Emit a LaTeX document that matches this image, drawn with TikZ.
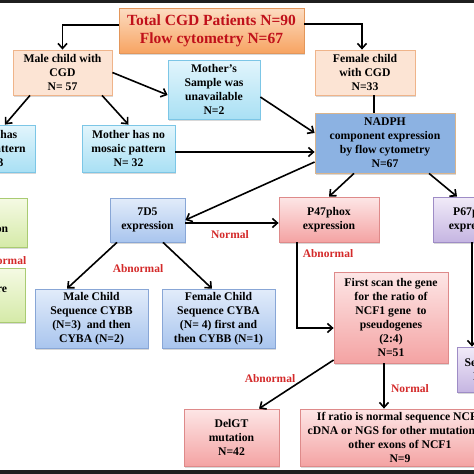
\documentclass[tikz,border=0pt]{standalone}
\usepackage{fontspec}
\setmainfont{Liberation Serif}
\usetikzlibrary{arrows.meta,shadows}
\definecolor{topT}{HTML}{FCDCC2}
\definecolor{topB}{HTML}{F7A462}
\definecolor{topD}{HTML}{E3965A}
\definecolor{topTxt}{HTML}{C0101A}
\definecolor{peachF}{HTML}{FCE4D4}
\definecolor{peachD}{HTML}{EFB48A}
\definecolor{cyT}{HTML}{E2F5FC}
\definecolor{cyB}{HTML}{A9E0F4}
\definecolor{cyD}{HTML}{7CC6E6}
\definecolor{nadF}{HTML}{8CB2E2}
\definecolor{nadD}{HTML}{D9B48C}
\definecolor{blT}{HTML}{E2ECFA}
\definecolor{blB}{HTML}{A9C5EE}
\definecolor{blD}{HTML}{88A6D6}
\definecolor{pkT}{HTML}{FDE6E6}
\definecolor{pkB}{HTML}{F4A3A3}
\definecolor{pkD}{HTML}{DE8A8A}
\definecolor{puT}{HTML}{F1EBF8}
\definecolor{puB}{HTML}{C5B5E2}
\definecolor{puD}{HTML}{9E8CC6}
\definecolor{grT}{HTML}{F5FAE4}
\definecolor{grB}{HTML}{D5EAA8}
\definecolor{grD}{HTML}{A9CB72}
\definecolor{labred}{HTML}{D42A2A}
\tikzset{
  bx/.style={draw, line width=0.8pt, align=center, inner sep=0pt,
    font=\fontsize{11.7}{14}\selectfont\bfseries,
    drop shadow={shadow xshift=1.2pt, shadow yshift=-1.5pt, opacity=0.3}},
  topbox/.style={bx, top color=topT, bottom color=topB, draw=topD, text=topTxt,
    font=\fontsize{15.5}{18}\selectfont\bfseries},
  peach/.style={bx, fill=peachF, draw=peachD},
  cyanbox/.style={bx, top color=cyT, bottom color=cyB, draw=cyD},
  nadbox/.style={bx, fill=nadF, draw=nadD},
  bluebox/.style={bx, top color=blT, bottom color=blB, draw=blD},
  pinkbox/.style={bx, top color=pkT, bottom color=pkB, draw=pkD},
  purpbox/.style={bx, top color=puT, bottom color=puB, draw=puD},
  greenbox/.style={bx, top color=grT, bottom color=grB, draw=grD},
  arr/.style={line width=1.6pt, -{Straight Barb[length=5pt,width=9pt,line width=1.6pt]}},
  ln/.style={line width=1.6pt},
  lab/.style={text=labred, font=\fontsize{11.5}{13}\selectfont\bfseries, inner sep=0pt},
}
\begin{document}
\begin{tikzpicture}[x=1pt,y=-1pt]
\useasboundingbox (0,0) rectangle (474,474);
\clip (0,0) rectangle (474,474);
\fill[white] (0,0) rectangle (474,474);

% boxes
\node[topbox, minimum width=185pt, minimum height=45pt] (top) at (211.5,30.5) {Total CGD Patients N=90\\Flow cytometry N=67};
\node[peach, minimum width=99pt, minimum height=45pt] (male) at (62.5,72.5) {Male child with\\CGD\\N= 57};
\node[peach, minimum width=100pt, minimum height=45pt] (female) at (365,72.5) {Female child\\with CGD\\N=33};
\node[cyanbox, minimum width=92pt, minimum height=59pt] (mothers) at (214,89.5) {Mother's\\Sample was\\unavailable\\N=2};
\node[nadbox, minimum width=140pt, minimum height=60pt] (nadph) at (385,143) {NADPH\\component expression\\by flow cytometry\\N=67};
\node[cyanbox, minimum width=93pt, minimum height=47pt] (mosaic) at (-11.5,148.5) {Mother has\\mosaic pattern\\N= 23};
\node[cyanbox, minimum width=93pt, minimum height=47pt] (nomosaic) at (128.5,148.5) {Mother has no\\mosaic pattern\\N= 32};
\node[greenbox, minimum width=90pt, minimum height=49pt] (green1) at (-18,222.5) {Mosaic\\expression};
\node[greenbox, minimum width=97pt, minimum height=54pt] (green2) at (-23.5,295) {Mothers are\\carriers};
\node[bluebox, minimum width=75pt, minimum height=44pt] (d75) at (147.5,220) {7D5\\expression};
\node[pinkbox, minimum width=100pt, minimum height=45pt] (p47) at (329,219.5) {P47phox\\expression};
\node[purpbox, minimum width=84pt, minimum height=45pt] (p67) at (475,219.5) {P67phox\\expression};
\node[bluebox, minimum width=113pt, minimum height=59pt] (maleseq) at (91.5,318.5) {Male Child\\Sequence CYBB\\(N=3)\ \ and then\\CYBA (N=2)};
\node[bluebox, minimum width=113pt, minimum height=59pt] (femseq) at (218.5,318.5) {Female Child\\Sequence CYBA\\(N= 4) first and\\then CYBB (N=1)};
\node[pinkbox, minimum width=114pt, minimum height=91pt] (ncf1) at (391,317.5) {First scan the gene\\for the ratio of\\NCF1 gene\ \ to\\pseudogenes\\(2:4)\\N=51};
\node[pinkbox, minimum width=95pt, minimum height=57pt] (delgt) at (231.5,437.5) {DelGT\\mutation\\N=42};
\node[pinkbox, minimum width=200pt, minimum height=57pt] (ratio) at (400,437.5) {If ratio is normal sequence NCF1\\cDNA or NGS for other mutations in\\other exons of NCF1\\N=9};
\node[purpbox, minimum width=62pt, minimum height=45pt] (purp2) at (488,369.5) {Sequence\\NCF2};

% connectors
\draw[arr] ([yshift=5.5pt]top.west) -| (male.north);
\draw[arr] ([yshift=6.5pt]top.east) -| ([xshift=-3pt]female.north);
\draw[arr] (male.east) -- ([yshift=-5.5pt]mothers.west);
\draw[arr] ([yshift=-7.5pt]mothers.east) -- ([yshift=10pt]nadph.west);
\draw[ln] ([xshift=9pt]female.south) -- ([xshift=9pt]female.south |- nadph.north);
\draw[arr] ([yshift=-3.5pt]nomosaic.east) -- ([yshift=-9pt]nadph.west);
\draw[arr] ([xshift=-32.5pt]male.south) -- ([xshift=16.5pt]mosaic.north);
\draw[arr] ([xshift=39.5pt]male.south) -- (nomosaic.north);
\draw[arr] ([yshift=-19pt]nadph.west) -- (d75.east);
\draw[arr] ([yshift=-3pt]d75.east) -- ([yshift=-3.5pt]p47.west);
\draw[arr] ([xshift=-31pt]nadph.south) -- (p47.north);
\draw[arr] ([xshift=44pt]nadph.south) -- ([xshift=-18pt]p67.north);
\draw[arr] ([xshift=-30.5pt]d75.south) -- ([xshift=-24.5pt]maleseq.north);
\draw[arr] ([xshift=15.5pt]d75.south) -- ([xshift=-6.5pt]femseq.north);
\draw[arr] ([xshift=-32pt]p47.south) |- ([yshift=-10.5pt]ncf1.west);
\draw[arr] ([yshift=-42.5pt]ncf1.west) -- ([xshift=27.5pt]delgt.north);
\draw[arr] ([xshift=-7pt]ncf1.south) -- ([xshift=-16pt]ratio.north);
\draw[arr] ([xshift=-3pt]p67.south) -- ([xshift=-16pt]purp2.north);

% labels
\node[lab] (l1) at (230,235) {Normal};
\node[lab] (l2) at (138,269) {Abnormal};
\node[lab] (l3) at (328,254) {Abnormal};
\node[lab] (l4) at (270,379) {Abnormal};
\node[lab] (l5) at (410,389) {Normal};
\node[lab] (l6) at (1,261) {Abnormal};

% frame bands
\fill[black!88] (0,0) rectangle (474,2.5);
\fill[black!88] (0,470) rectangle (474,474);
\end{tikzpicture}
\end{document}
